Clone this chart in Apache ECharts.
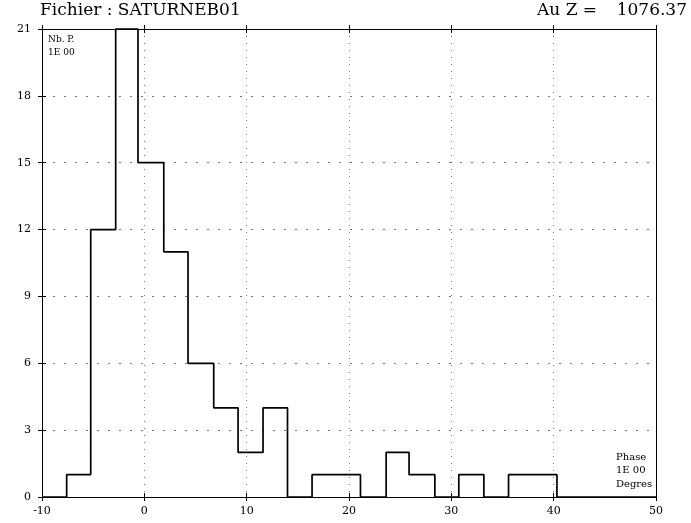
<!DOCTYPE html>
<html>
<head>
<meta charset="utf-8">
<script src="https://cdn.jsdelivr.net/npm/echarts@6/dist/echarts.min.js"></script>
<style>
html,body{margin:0;padding:0;background:#fff;}
#chart{width:691px;height:523px;}
</style>
</head>
<body>
<div id="chart"></div>
<script>
// Bin edges (degrees) and counts
const binEdges = [-10, -7.59, -5.24, -2.80, -0.62, 1.90, 4.27, 6.78, 9.16, 11.60, 13.99, 16.39, 18.75, 21.12, 23.63, 25.87, 28.39, 30.73, 33.18, 35.59, 37.95, 40.32, 50];
const binCounts = [0, 1, 12, 21, 15, 11, 6, 4, 2, 4, 0, 1, 1, 0, 2, 1, 0, 1, 0, 1, 1, 0];
const xTicks = [-10, 0, 10, 20, 30, 40, 50];
const yTicks = [0, 3, 6, 9, 12, 15, 18, 21];
const titleText = 'Fichier : SATURNEB01';
const auZLabel = 'Au Z =';
const auZValue = '1076.37';

// Build histogram outline from edges/counts
const outline = [[binEdges[0], 0]];
for (let i = 0; i < binCounts.length; i++) {
  outline.push([binEdges[i], binCounts[i]]);
  outline.push([binEdges[i + 1], binCounts[i]]);
}
outline.push([binEdges[binEdges.length - 1], 0]);

const serif = '"DejaVu Serif", "Liberation Serif", serif';
const xMin = xTicks[0], xMax = xTicks[xTicks.length - 1];
const yMin = yTicks[0], yMax = yTicks[yTicks.length - 1];

function xAx(pos, inside, labels, split) {
  return {
    type: 'value', min: xMin, max: xMax, interval: 10, position: pos,
    axisLine: { show: true, onZero: false, lineStyle: { color: '#000', width: 1 } },
    axisTick: { show: true, inside: inside, length: 4, lineStyle: { color: '#000', width: 1 } },
    axisLabel: { show: labels, fontFamily: serif, fontSize: 11, color: '#000', margin: 9 },
    splitLine: { show: split, lineStyle: { color: '#777', width: 1, type: [1, 6] } }
  };
}
function yAx(pos, inside, labels, split, ticks) {
  return {
    type: 'value', min: yMin, max: yMax, interval: 3, position: pos,
    axisLine: { show: true, onZero: false, lineStyle: { color: '#000', width: 1 } },
    axisTick: { show: ticks, inside: inside, length: 4, lineStyle: { color: '#000', width: 1 } },
    axisLabel: { show: labels, fontFamily: serif, fontSize: 11, color: '#000', margin: 11 },
    splitLine: { show: split, lineStyle: { color: '#777', width: 1, type: [2, 9] } }
  };
}

const chart = echarts.init(document.getElementById('chart'), null, { renderer: 'canvas' });
chart.setOption({
  backgroundColor: '#fff',
  animation: false,
  grid: { left: 42, right: 35, top: 29, bottom: 26, containLabel: false },
  xAxis: [
    xAx('bottom', false, true, true),
    xAx('bottom', true, false, false),
    xAx('top', false, false, false),
    xAx('top', true, false, false)
  ],
  yAxis: [
    yAx('left', false, true, true, true),
    yAx('left', true, false, false, true),
    yAx('right', false, false, false, false)
  ],
  series: [{
    type: 'line',
    xAxisIndex: 0, yAxisIndex: 0,
    data: outline,
    symbol: 'none',
    clip: false,
    lineStyle: { color: '#000', width: 1.7 },
    z: 5
  }],
  graphic: [
    { type: 'text', left: 40, top: 2, style: { text: titleText, font: '17px ' + serif, fill: '#000' } },
    { type: 'text', left: 537, top: 2, style: { text: auZLabel, font: '17px ' + serif, fill: '#000' } },
    { type: 'text', right: 4, top: 2, style: { text: auZValue, font: '17px ' + serif, fill: '#000' } },
    { type: 'text', left: 48, top: 35, style: { text: 'Nb. P.', font: '9px ' + serif, fill: '#000' } },
    { type: 'text', left: 48, top: 48, style: { text: '1E 00', font: '9px ' + serif, fill: '#000' } },
    { type: 'text', left: 616, top: 452, style: { text: 'Phase', font: '10px ' + serif, fill: '#000' } },
    { type: 'text', left: 616, top: 465, style: { text: '1E 00', font: '10px ' + serif, fill: '#000' } },
    { type: 'text', left: 616, top: 479, style: { text: 'Degres', font: '10px ' + serif, fill: '#000' } }
  ]
});
</script>
</body>
</html>
